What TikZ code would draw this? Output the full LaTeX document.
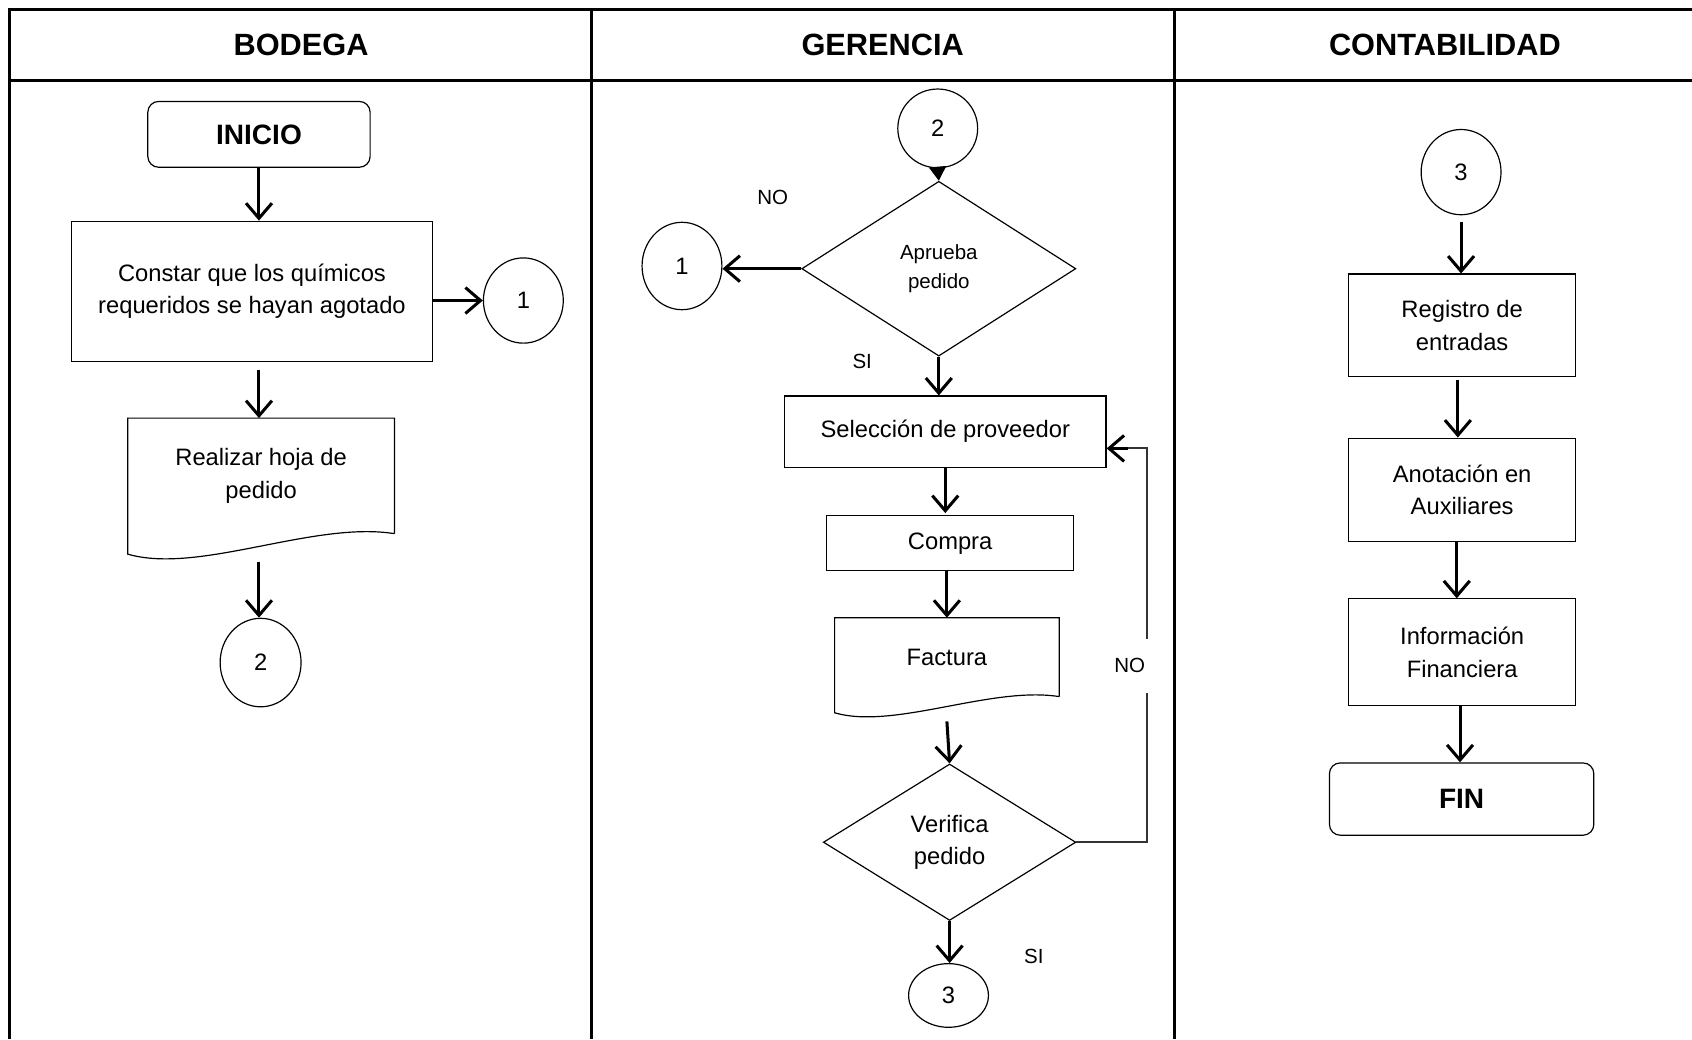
\documentclass[tikz,border=0pt]{standalone}
\usepackage{fontspec}
\setmainfont{Liberation Sans}
\usetikzlibrary{shapes.geometric,arrows.meta,calc}
\begin{document}
\begin{tikzpicture}[x=1pt,y=-1pt,
  box/.style={draw, line width=1.1pt, inner sep=0pt, align=center,
              font=\fontsize{22}{30}\selectfont},
  proc/.style={box, rectangle},
  term/.style={box, rectangle, rounded corners=10pt,
               font=\fontsize{26}{30}\selectfont\bfseries},
  conn/.style={box, ellipse},
  decision/.style={box, diamond},
  docnode/.style={box, draw=none},
  lane/.style={line width=2.8pt},
  lanehead/.style={font=\fontsize{28.5}{34}\selectfont\bfseries},
  barb/.style={-{Straight Barb[length=14pt,width=24pt,line width=2.8pt]}},
  flow/.style={line width=2.8pt, barb},
  back/.style={line width=1.8pt, draw=black!80},
  tag/.style={font=\fontsize{19}{24}\selectfont},
  outline/.style={line width=1.1pt},
]
\useasboundingbox (0,0) rectangle (1568,963);

% swimlane frame
\draw[lane] (9,963) -- (9,9) -- (1568,9);
\draw[lane] (9,75) -- (1568,75);
\draw[lane] (548,9) -- (548,963);
\draw[lane] (1088,9) -- (1088,963);
\node[lanehead] (hbod) at (279,42) {BODEGA};
\node[lanehead] (hger) at (818,42) {GERENCIA};
\node[lanehead] (hcon) at (1339,42) {CONTABILIDAD};

% ---------------- BODEGA ----------------
\node[term, minimum width=206, minimum height=61] (inicio) at (240,124.5) {INICIO};
\node[proc, minimum width=335, minimum height=130] (constar) at (233.5,270)
  {Constar que los químicos\\requeridos se hayan agotado};
\node[conn, minimum width=74, minimum height=79] (c1a) at (485,278.5) {1};
\node[docnode, minimum width=246, minimum height=106] (hoja) at (242,441)
  {Realizar hoja de\\pedido};
\draw[outline] (hoja.south east) -- (hoja.north east) -- (hoja.north west)
  -- ($(hoja.south west)+(0,19)$)
  .. controls ($(hoja.south west)+(66,38)$) and ($(hoja.south east)+(-75,-12)$)
  .. (hoja.south east);
\coordinate (hojaout) at ($(hoja.south)+(-2,26)$);
\node[conn, minimum width=75, minimum height=82] (c2a) at (241.5,614) {2};

\draw[flow] (inicio.south) -- (inicio.south |- constar.north);
\draw[flow] (c1a.west -| constar.east) -- (c1a.west);
\draw[flow, shorten <=7pt] (inicio.south |- constar.south) -- (inicio.south |- hoja.north);
\draw[flow] (hojaout) -- (hojaout |- c2a.north);

% ---------------- GERENCIA ----------------
\node[conn, minimum width=74, minimum height=73] (c2b) at (869,119) {2};
\node[decision, minimum width=254, minimum height=162,
      font=\fontsize{19}{26}\selectfont] (aprueba) at (870,249) {Aprueba\\pedido};
\node[conn, minimum width=74, minimum height=81] (c1b) at (632,246.5) {1};
\node[tag] (noA) at (716,183) {NO};
\node[tag] (siA) at (799,335) {SI};
\node[proc, minimum width=298, minimum height=66] (selec) at (876,400)
  {Selección de proveedor};
\node[proc, minimum width=229, minimum height=51] (compra) at (880.5,503.5) {Compra};
\node[docnode, minimum width=207, minimum height=72] (factura) at (877.5,609) {Factura};
\draw[outline] (factura.south east) -- (factura.north east) -- (factura.north west)
  -- ($(factura.south west)+(0,15)$)
  .. controls ($(factura.south west)+(55,31)$) and ($(factura.south east)+(-63,-10)$)
  .. (factura.south east);
\coordinate (facout) at ($(factura.south)+(0,23)$);
\node[decision, minimum width=234, minimum height=145] (verifica) at (880,780.5)
  {Verifica\\pedido};
\node[conn, minimum width=74, minimum height=59] (c3a) at (879,922.5) {3};
\node[tag] (siB) at (958,886) {SI};
\node[tag] (noB) at (1047,617) {NO};

\draw[line width=1pt, -{Triangle[length=13pt,width=16pt]}] (c2b.south) -- (aprueba.north);
\draw[flow] (aprueba.west) -- (aprueba.west -| c1b.east);
\draw[flow] (aprueba.south) -- (aprueba.south |- selec.north);
\draw[flow] (selec.south) -- ($(selec.south |- compra.north)+(0,-2)$);
\draw[flow] (compra.south -| facout) -- (factura.north -| facout);
\draw[flow] (facout) -- (verifica.north);
\draw[flow] (verifica.south) -- (verifica.south |- c3a.north);

% return path when the order is rejected
\coordinate (selin) at ($(selec.south east)+(0,-18)$);
\coordinate (gapbot) at (1063,642);
\coordinate (gaptop) at (1063,592);
\draw[back] (verifica.east) -- (verifica.east -| gapbot) -- (gapbot);
\draw[back] (gaptop) -- (gaptop |- selin) -- ($(selin)+(2,0)$);
\draw[flow] ($(selin)+(20,0)$) -- (selin);

% ---------------- CONTABILIDAD ----------------
\node[conn, minimum width=74, minimum height=79] (c3b) at (1354,159.5) {3};
\node[proc, minimum width=210, minimum height=95] (registro) at (1355,301.5)
  {Registro de\\entradas};
\node[proc, minimum width=210, minimum height=96] (anot) at (1355,454)
  {Anotación en\\Auxiliares};
\node[proc, minimum width=210, minimum height=99] (info) at (1355,604.5)
  {Información\\Financiera};
\node[term, minimum width=245, minimum height=67] (fin) at (1354.5,740.5) {FIN};

\draw[flow, shorten <=6pt] (c3b.south) -- (c3b.south |- registro.north);
\draw[flow, shorten <=3pt] ($(registro.south)+(-4,0)$) -- ($(anot.north)+(-4,0)$);
\draw[flow] ($(anot.south)+(-5,0)$) -- ($(info.north)+(-5,0)$);
\draw[flow] ($(info.south)+(-2,0)$) -- ($(fin.north)+(-1.5,0)$);
\end{tikzpicture}
\end{document}
